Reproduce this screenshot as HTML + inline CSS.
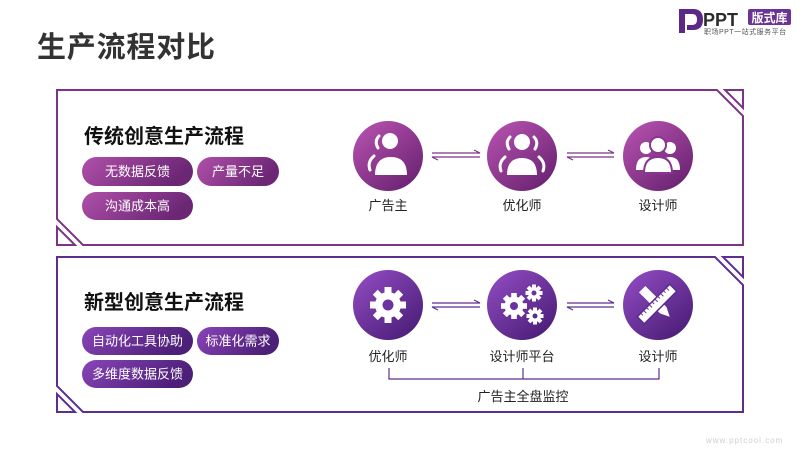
<!DOCTYPE html>
<html>
<head>
<meta charset="utf-8">
<style>
html,body{margin:0;padding:0;background:#fff;}
body{width:800px;height:450px;overflow:hidden;}
svg{display:block;}
text{font-family:"Liberation Sans","Noto Sans CJK SC",sans-serif;}
</style>
</head>
<body>
<svg width="800" height="450" viewBox="0 0 800 450" xmlns="http://www.w3.org/2000/svg">
<defs>
  <linearGradient id="pillA" x1="0" y1="0" x2="1" y2="0.3">
    <stop offset="0" stop-color="#b050aa"/>
    <stop offset="1" stop-color="#6b2674"/>
  </linearGradient>
  <linearGradient id="pillB" x1="0" y1="0" x2="1" y2="0.3">
    <stop offset="0" stop-color="#8a45b8"/>
    <stop offset="1" stop-color="#4c1f78"/>
  </linearGradient>
  <linearGradient id="cirA" x1="0.15" y1="0.1" x2="0.85" y2="0.95">
    <stop offset="0" stop-color="#b04eaa"/>
    <stop offset="1" stop-color="#6a2372"/>
  </linearGradient>
  <linearGradient id="cirB" x1="0.15" y1="0.1" x2="0.85" y2="0.95">
    <stop offset="0" stop-color="#8b47bb"/>
    <stop offset="1" stop-color="#4b1e78"/>
  </linearGradient>
</defs>

<!-- Title -->
<text x="37" y="57" font-size="29" font-weight="bold" fill="#333" letter-spacing="0.8">生产流程对比</text>

<!-- Logo -->
<path d="M679,9 L693,9 Q703,9 703,19.5 Q703,30 693,30 L687,30 L687,25 L692,25 Q697,25 697,19.5 Q697,14 692,14 L685,14 L685,33 L679,33 Z" fill="#5b2a86"/>
<text x="703" y="26" font-size="18" font-weight="bold" fill="#2b2b2b">PPT</text>
<rect x="748" y="9" width="43" height="16" rx="2" fill="#6b3494"/>
<text x="769.5" y="22" font-size="12" font-weight="bold" fill="#fff" text-anchor="middle">版式库</text>
<text x="704" y="34" font-size="7" fill="#555" letter-spacing="0.5">职场PPT一站式服务平台</text>

<!-- Panel 1 -->
<polygon points="57,90 717,90 743,116 743,245 83,245 57,219" fill="none" stroke="#7a3585" stroke-width="2"/>
<polygon points="725,90 743,90 743,108" fill="none" stroke="#7a3585" stroke-width="2"/>
<polygon points="57,227 57,245 75,245" fill="none" stroke="#7a3585" stroke-width="2"/>

<!-- Panel 2 -->
<polygon points="57,257 715,257 743,285 743,412 83,412 57,386" fill="none" stroke="#5e2e8f" stroke-width="2"/>
<polygon points="723,257 743,257 743,277" fill="none" stroke="#5e2e8f" stroke-width="2"/>
<polygon points="57,394 57,412 75,412" fill="none" stroke="#5e2e8f" stroke-width="2"/>

<!-- Section 1 header and pills -->
<text x="84" y="143" font-size="20" font-weight="bold" fill="#111">传统创意生产流程</text>
<rect x="82" y="157" width="111" height="29" rx="14.5" fill="url(#pillA)"/>
<text x="137.5" y="176" font-size="13" fill="#fff" text-anchor="middle">无数据反馈</text>
<rect x="197" y="157" width="82" height="29" rx="14.5" fill="url(#pillA)"/>
<text x="238" y="176" font-size="13" fill="#fff" text-anchor="middle">产量不足</text>
<rect x="82" y="192" width="111" height="28" rx="14" fill="url(#pillA)"/>
<text x="137.5" y="210.5" font-size="13" fill="#fff" text-anchor="middle">沟通成本高</text>

<!-- Section 2 header and pills -->
<text x="84" y="309" font-size="20" font-weight="bold" fill="#111">新型创意生产流程</text>
<rect x="82" y="327" width="111" height="28" rx="14" fill="url(#pillB)"/>
<text x="137.5" y="345.5" font-size="13" fill="#fff" text-anchor="middle">自动化工具协助</text>
<rect x="197" y="327" width="82" height="28" rx="14" fill="url(#pillB)"/>
<text x="238" y="345.5" font-size="13" fill="#fff" text-anchor="middle">标准化需求</text>
<rect x="82" y="360" width="111" height="28" rx="14" fill="url(#pillB)"/>
<text x="137.5" y="378.5" font-size="13" fill="#fff" text-anchor="middle">多维度数据反馈</text>

<!-- Row 1 circles -->
<circle cx="388" cy="156" r="35" fill="url(#cirA)"/>
<circle cx="522" cy="156" r="35" fill="url(#cirA)"/>
<circle cx="658" cy="156" r="35" fill="url(#cirA)"/>

<!-- Icon 1: person with arcs -->
<g fill="#fff">
  <circle cx="390" cy="141" r="8"/>
  <path d="M375,175 Q375,157 391,157 Q407,157 407,175 Z"/>
</g>
<g fill="none" stroke="#fff" stroke-width="3" stroke-linecap="round">
  <path d="M379,136 Q374,141 378,148"/>
  <path d="M374,156 Q367,162 370,170"/>
</g>

<!-- Icon 2: person with arcs both sides -->
<g fill="#fff">
  <circle cx="522" cy="142" r="8"/>
  <path d="M507,175 Q507,158 522,158 Q537,158 537,175 Z"/>
</g>
<g fill="none" stroke="#fff" stroke-width="3" stroke-linecap="round">
  <path d="M510,137 Q505,142 509,149"/>
  <path d="M534,137 Q539,142 535,149"/>
  <path d="M505,157 Q498,163 501,171"/>
  <path d="M539,157 Q546,163 543,171"/>
</g>

<!-- Icon 3: three people -->
<g fill="#fff">
  <circle cx="646" cy="148" r="6"/>
  <path d="M636,170 Q636,157 646,157 Q656,157 656,170 Z"/>
  <circle cx="670" cy="148" r="6"/>
  <path d="M660,170 Q660,157 670,157 Q680,157 680,170 Z"/>
</g>
<g fill="#fff" stroke="#8a3590" stroke-width="2">
  <circle cx="658" cy="145" r="8"/>
  <path d="M644,173 Q644,157 658,157 Q672,157 672,173 Z"/>
</g>

<!-- Row 1 arrows -->
<g fill="none" stroke="#7a3585" stroke-width="1.2">
  <path d="M432,153 L480,153 L474,150"/>
  <path d="M480,157 L432,157 L438,160"/>
  <path d="M567,153 L614,153 L608,150"/>
  <path d="M614,157 L567,157 L573,160"/>
</g>

<!-- Row 1 labels -->
<text x="388" y="210" font-size="13" fill="#222" text-anchor="middle">广告主</text>
<text x="522" y="210" font-size="13" fill="#222" text-anchor="middle">优化师</text>
<text x="658" y="210" font-size="13" fill="#222" text-anchor="middle">设计师</text>

<!-- Row 2 circles -->
<circle cx="388" cy="305" r="35" fill="url(#cirB)"/>
<circle cx="522" cy="305" r="35" fill="url(#cirB)"/>
<circle cx="658" cy="305" r="35" fill="url(#cirB)"/>

<!-- Gear 1 -->
<g fill="#fff" transform="translate(388,305)">
  <circle r="13"/>
  <rect x="-3.5" y="-18" width="7" height="36"/>
  <rect x="-3.5" y="-18" width="7" height="36" transform="rotate(45)"/>
  <rect x="-3.5" y="-18" width="7" height="36" transform="rotate(90)"/>
  <rect x="-3.5" y="-18" width="7" height="36" transform="rotate(135)"/>
  <circle r="5.5" fill="#6b33a0"/>
</g>

<!-- Gears 2 -->
<g fill="#fff" transform="translate(514,306)">
  <circle r="9.5"/>
  <rect x="-2.8" y="-13" width="5.6" height="26"/>
  <rect x="-2.8" y="-13" width="5.6" height="26" transform="rotate(45)"/>
  <rect x="-2.8" y="-13" width="5.6" height="26" transform="rotate(90)"/>
  <rect x="-2.8" y="-13" width="5.6" height="26" transform="rotate(135)"/>
  <circle r="4" fill="#6a33a0"/>
</g>
<g fill="#fff" transform="translate(534,293)">
  <circle r="6"/>
  <rect x="-2" y="-8.5" width="4" height="17"/>
  <rect x="-2" y="-8.5" width="4" height="17" transform="rotate(45)"/>
  <rect x="-2" y="-8.5" width="4" height="17" transform="rotate(90)"/>
  <rect x="-2" y="-8.5" width="4" height="17" transform="rotate(135)"/>
  <circle r="2.5" fill="#6a33a0"/>
</g>
<g fill="#fff" transform="translate(535,316)">
  <circle r="6"/>
  <rect x="-2" y="-8.5" width="4" height="17"/>
  <rect x="-2" y="-8.5" width="4" height="17" transform="rotate(45)"/>
  <rect x="-2" y="-8.5" width="4" height="17" transform="rotate(90)"/>
  <rect x="-2" y="-8.5" width="4" height="17" transform="rotate(135)"/>
  <circle r="2.5" fill="#5a2a8f"/>
</g>

<!-- Ruler + pencil -->
<g transform="translate(657,304)">
  <g transform="rotate(-45)">
    <rect x="-4.5" y="-21" width="9" height="30" fill="#fff"/>
    <polygon points="-4.5,9 4.5,9 0,18" fill="#fff"/>
  </g>
  <g transform="rotate(45)">
    <rect x="-5" y="-23" width="10" height="46" fill="#fff" stroke="#5a2a8f" stroke-width="1.5"/>
    <g stroke="#6a33a0" stroke-width="1">
      <line x1="-5" y1="-18" x2="-1" y2="-18"/>
      <line x1="-5" y1="-14" x2="-2" y2="-14"/>
      <line x1="-5" y1="-10" x2="-1" y2="-10"/>
      <line x1="-5" y1="-6" x2="-2" y2="-6"/>
      <line x1="-5" y1="-2" x2="-1" y2="-2"/>
      <line x1="-5" y1="2" x2="-2" y2="2"/>
      <line x1="-5" y1="6" x2="-1" y2="6"/>
      <line x1="-5" y1="10" x2="-2" y2="10"/>
      <line x1="-5" y1="14" x2="-1" y2="14"/>
      <line x1="-5" y1="18" x2="-2" y2="18"/>
    </g>
  </g>
</g>

<!-- Row 2 arrows -->
<g fill="none" stroke="#5e2e8f" stroke-width="1.2">
  <path d="M432,303 L480,303 L474,300"/>
  <path d="M480,307 L432,307 L438,310"/>
  <path d="M567,303 L614,303 L608,300"/>
  <path d="M614,307 L567,307 L573,310"/>
</g>

<!-- Row 2 labels -->
<text x="388" y="361" font-size="13" fill="#222" text-anchor="middle">优化师</text>
<text x="522" y="361" font-size="13" fill="#222" text-anchor="middle">设计师平台</text>
<text x="658" y="361" font-size="13" fill="#222" text-anchor="middle">设计师</text>

<!-- Bracket -->
<g fill="none" stroke="#5e2e8f" stroke-width="1.2">
  <path d="M389,368 L389,379 L659,379 L659,368"/>
  <path d="M523,368 L523,379"/>
</g>
<text x="523" y="401" font-size="13" fill="#222" text-anchor="middle">广告主全盘监控</text>

<!-- Watermark -->
<text x="706" y="443" font-size="8" fill="#cfcfcf" letter-spacing="1">www.pptcool.com</text>
</svg>
</body>
</html>
